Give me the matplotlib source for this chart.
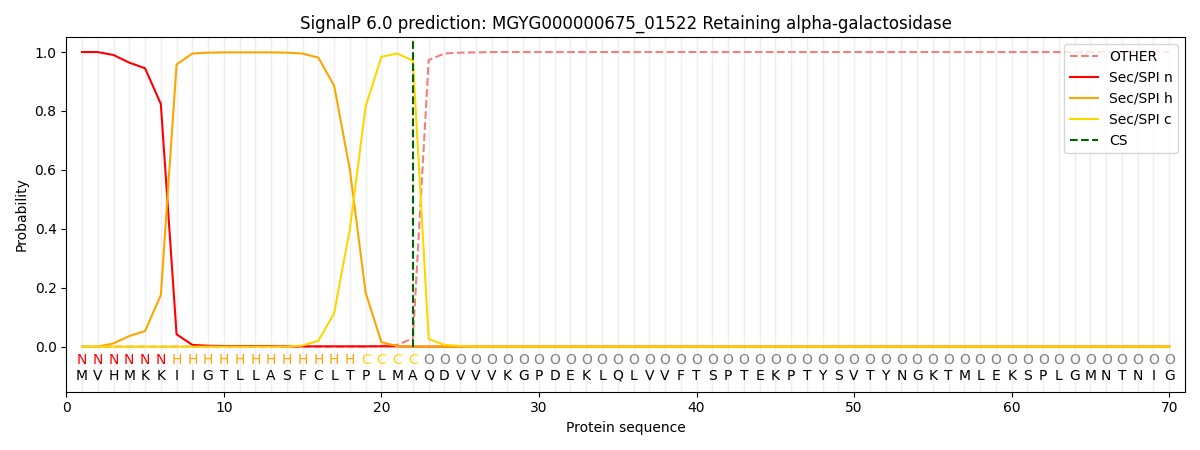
import numpy as np
import matplotlib
matplotlib.use("Agg")
import matplotlib.pyplot as plt

sequence = list("MVHMKKIIGTLLASFCLTPLMAQDVVVKGPDEKLQLVVFTSPTEKPTYSVTYNGKTMLEKSPLGMNTNIG")
states = ["N"] * 6 + ["H"] * 12 + ["C"] * 4 + ["O"] * 48
state_colors = {"N": "red", "H": "orange", "C": "gold", "O": "grey"}

n_len = len(sequence)
pos = np.arange(1, n_len + 1)

sp_n = [1.0, 1.0, 0.99, 0.964, 0.945, 0.824, 0.042, 0.006, 0.003, 0.002,
        0.002, 0.002, 0.002, 0.001, 0.001, 0.001, 0.001, 0.001, 0.001, 0.001,
        0.001, 0.0] + [0.0] * 48
sp_h = [0.0, 0.0, 0.011, 0.036, 0.053, 0.175, 0.958, 0.995, 0.998, 0.999,
        0.999, 0.999, 0.999, 0.998, 0.995, 0.981, 0.886, 0.6, 0.183, 0.015,
        0.002, 0.0] + [0.0] * 48
sp_c = [0.0] * 14 + [0.004, 0.02, 0.113, 0.4, 0.815, 0.984, 0.995, 0.971,
                     0.026, 0.006, 0.002] + [0.0] * 45
other = [0.0] * 19 + [0.003, 0.006, 0.028, 0.973, 0.995, 0.998, 0.999] + [1.0] * 44
cs_pos = 22

fig, ax = plt.subplots(figsize=(12, 4.5), dpi=100)

for p in pos:
    ax.axvline(p, color="#eeeeee", lw=1, zorder=0)

ax.plot(pos, other, color="lightcoral", ls="--", label="OTHER")
ax.plot(pos, sp_n, color="red", label="Sec/SPI n")
ax.plot(pos, sp_h, color="orange", label="Sec/SPI h")
ax.plot(pos, sp_c, color="gold", label="Sec/SPI c")
ax.vlines(cs_pos, 0, 1.04, color="darkgreen", ls="--", label="CS")

for p, aa, st in zip(pos, sequence, states):
    ax.text(p, -0.045, st, color=state_colors[st], ha="center", va="center", fontsize=10)
    ax.text(p, -0.098, aa, color="black", ha="center", va="center", fontsize=10)

ax.set_xlim(0, 71)
ax.set_ylim(-0.153, 1.05)
ax.set_yticks([0.0, 0.2, 0.4, 0.6, 0.8, 1.0])
ax.set_xlabel("Protein sequence")
ax.set_ylabel("Probability")
ax.set_title("SignalP 6.0 prediction: MGYG000000675_01522 Retaining alpha-galactosidase")
ax.legend(loc="upper right")

plt.tight_layout()
plt.savefig("out.png")
